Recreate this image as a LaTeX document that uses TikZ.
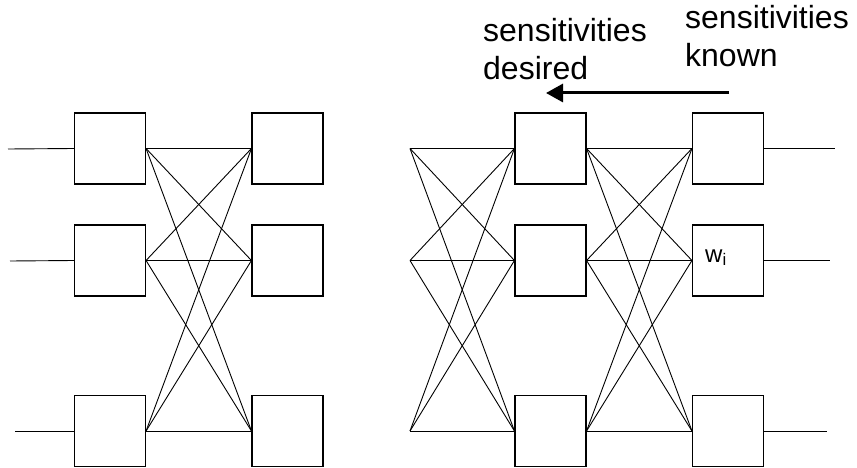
\documentclass[tikz,border=0pt]{standalone}
\usepackage{fontspec}
\setmainfont{Liberation Sans}
\usetikzlibrary{arrows.meta}
\begin{document}
\begin{tikzpicture}[x=1pt,y=-1pt,
  unit/.style={draw,line width=1.1pt,minimum width=71pt,minimum height=71pt,inner sep=0pt},
  wire/.style={line width=0.9pt},
  lbl/.style={font=\fontsize{32}{38}\selectfont,align=left,inner sep=0pt,anchor=base west}]
\useasboundingbox (0,0) rectangle (857,468);
% left network
\node[unit] (la1) at (110,148.5) {};
\node[unit] (la2) at (110,260.5) {};
\node[unit] (la3) at (110,431) {};
\node[unit] (lb1) at (287.5,148.5) {};
\node[unit] (lb2) at (287.5,260.5) {};
\node[unit] (lb3) at (287.5,431) {};
\coordinate (in1) at (8,149);
\coordinate (in2) at (10,261);
\coordinate (in3) at (15,431);
\draw[wire] (in1) -- (la1.west);
\draw[wire] (in2) -- (la2.west);
\draw[wire] (in3) -- (la3.west);
\foreach \i in {1,2,3}{\foreach \j in {1,2,3}{\draw[wire] (la\i.east) -- (lb\j.west);}}
% right network
\coordinate (f1) at (410,148.5);
\coordinate (f2) at (410,260.5);
\coordinate (f3) at (410,431);
\node[unit] (ra1) at (550.5,148.5) {};
\node[unit] (ra2) at (550.5,260.5) {};
\node[unit] (ra3) at (550.5,431) {};
\node[unit] (rb1) at (728,148.5) {};
\node[unit] (rb2) at (728,260.5) {};
\node[unit] (rb3) at (728,431) {};
\foreach \i in {1,2,3}{\foreach \j in {1,2,3}{\draw[wire] (f\i) -- (ra\j.west);\draw[wire] (ra\i.east) -- (rb\j.west);}}
\coordinate (out1) at (835,148.5);
\coordinate (out2) at (830,260.5);
\coordinate (out3) at (827,431);
\draw[wire] (rb1.east) -- (out1);
\draw[wire] (rb2.east) -- (out2);
\draw[wire] (rb3.east) -- (out3);
\node[font=\fontsize{24}{28}\selectfont,anchor=base west,inner sep=0pt] (wi) at (705,262) {w\textsubscript{i}};
% labels and arrow
\node[lbl] (desired) at (483,80) {sensitivities\\desired};
\node[lbl] (known) at (685,67) {sensitivities\\known};
\coordinate (arrS) at (729,93);
\coordinate (arrE) at (546,93);
\draw[line width=3pt,-{Triangle[length=17pt,width=18pt]}] (arrS) -- (arrE);
\end{tikzpicture}
\end{document}
